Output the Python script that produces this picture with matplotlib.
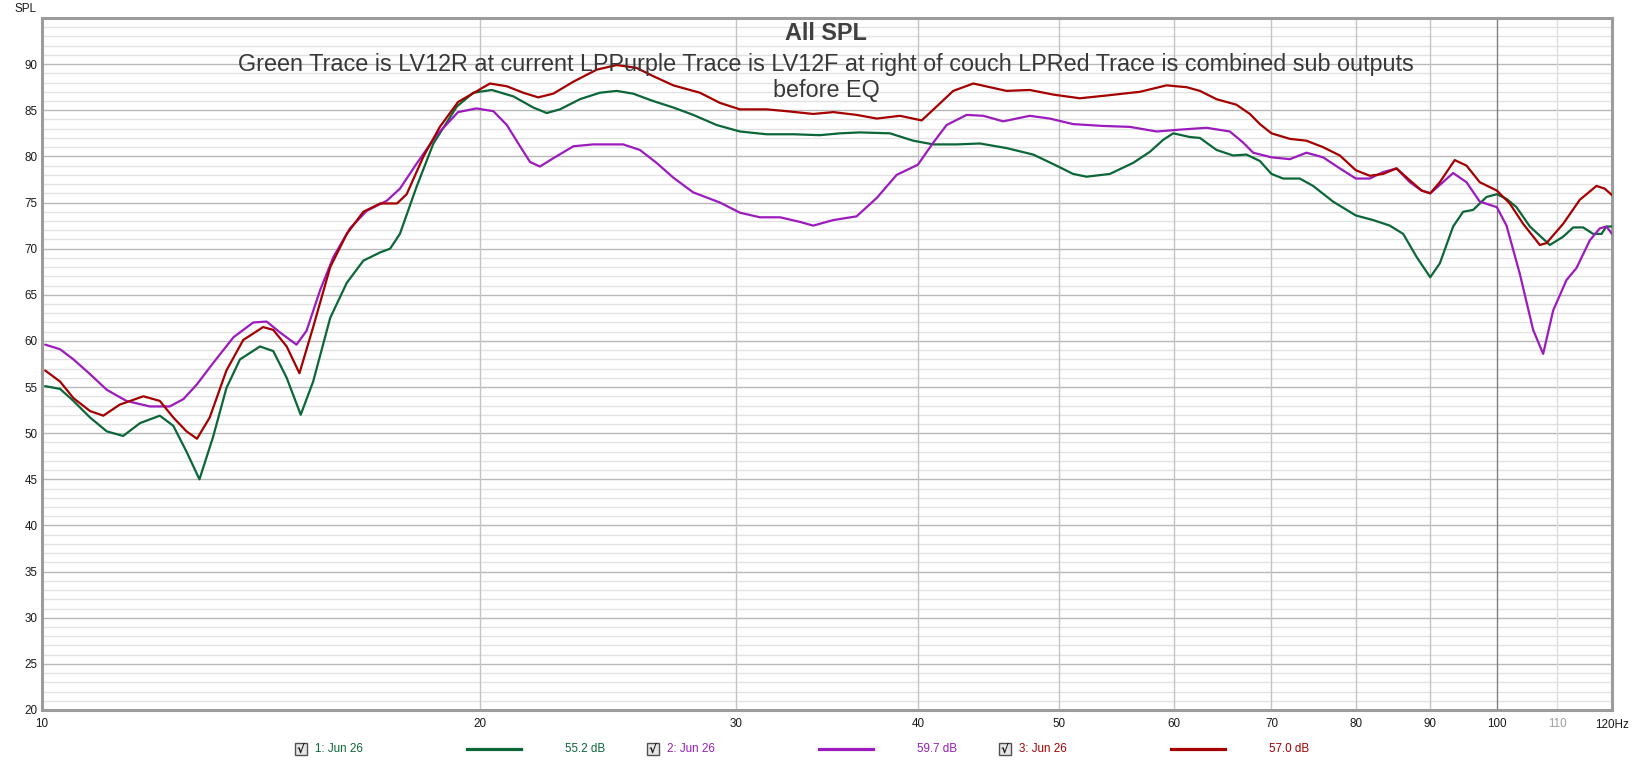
import matplotlib
matplotlib.use('Agg')
import matplotlib.pyplot as plt
from matplotlib.patches import Rectangle
from matplotlib.lines import Line2D

plt.rcParams['font.family'] = ['Liberation Sans', 'DejaVu Sans']

# ---------- data ----------
green_f = [10.05, 10.29, 10.51, 10.79, 11.08, 11.37, 11.68, 12.05, 12.31, 12.57, 12.83, 13.11,
           13.39, 13.68, 14.12, 14.42, 14.73, 15.06, 15.36, 15.78, 16.20, 16.63, 17.08, 17.35,
           17.62, 18.09, 18.58, 19.28, 19.79, 20.38, 21.09, 21.76, 22.23, 22.70, 23.43, 24.18,
           24.83, 25.49, 26.31, 27.16, 28.03, 29.09, 30.18, 31.48, 32.85, 34.25, 35.36, 36.49,
           38.27, 39.71, 40.99, 42.53, 44.13, 46.03, 48.01, 49.81, 51.14, 52.24, 54.20, 56.24,
           57.75, 58.98, 59.92, 61.52, 62.51, 64.17, 65.88, 67.29, 68.73, 70.0, 71.31, 73.21,
           74.77, 77.17, 80.0, 82.22, 84.42, 86.23, 88.08, 90.0, 91.37, 93.32, 94.81, 96.32,
           98.38, 100.0, 101.55, 103.16, 105.37, 108.76, 111.08, 112.85, 114.65, 116.47, 118.02,
           118.95, 120.0]
green_db = [55.1, 54.8, 53.5, 51.7, 50.2, 49.7, 51.1, 51.9, 50.8, 48.0, 45.0, 49.6,
            54.9, 58.0, 59.4, 58.9, 56.0, 52.0, 55.6, 62.5, 66.3, 68.7, 69.6, 70.0,
            71.6, 76.7, 81.4, 85.4, 86.9, 87.2, 86.5, 85.3, 84.7, 85.1, 86.2, 86.9,
            87.1, 86.8, 86.0, 85.3, 84.5, 83.4, 82.7, 82.4, 82.4, 82.3, 82.5, 82.6,
            82.5, 81.7, 81.3, 81.3, 81.4, 80.9, 80.2, 79.0, 78.1, 77.8, 78.1, 79.3,
            80.5, 81.8, 82.5, 82.1, 82.0, 80.7, 80.1, 80.2, 79.5, 78.1, 77.6, 77.6,
            76.8, 75.1, 73.6, 73.1, 72.5, 71.6, 69.1, 66.9, 68.4, 72.4, 74.0, 74.2,
            75.6, 75.9, 75.4, 74.5, 72.4, 70.4, 71.3, 72.3, 72.3, 71.6, 71.6,
            72.4, 72.4]

purple_f = [10.05, 10.29, 10.51, 10.79, 11.08, 11.43, 11.86, 12.24, 12.51, 12.78, 13.11, 13.54,
            13.97, 14.27, 14.58, 14.96, 15.20, 15.53, 15.86, 16.28, 16.72, 17.26, 17.62, 18.09,
            18.67, 19.32, 19.89, 20.43, 20.87, 21.31, 21.65, 21.99, 22.46, 23.19, 23.93, 25.09,
            25.76, 26.45, 27.16, 28.03, 29.24, 30.18, 31.15, 32.16, 33.19, 33.89, 34.99, 36.30,
            37.48, 38.68, 40.0, 40.99, 41.86, 43.21, 44.36, 45.78, 47.75, 49.29, 51.14, 53.63,
            55.95, 58.37, 60.55, 63.17, 65.54, 66.93, 68.01, 70.0, 72.07, 73.99, 75.96, 78.0,
            80.0, 81.79, 83.53, 85.32, 87.15, 88.78, 90.0, 91.37, 93.32, 95.32, 97.34, 100.0,
            101.55, 103.70, 105.92, 107.61, 109.33, 111.66, 113.44, 115.86, 117.71, 118.95, 120.0]
purple_db = [59.6, 59.1, 58.0, 56.4, 54.7, 53.5, 52.9, 52.9, 53.7, 55.3, 57.6, 60.4,
             62.0, 62.1, 60.9, 59.6, 61.1, 65.5, 69.1, 72.2, 74.1, 75.2, 76.5, 79.2,
             82.3, 84.8, 85.2, 84.9, 83.4, 81.1, 79.4, 78.9, 79.8, 81.1, 81.3, 81.3,
             80.7, 79.3, 77.7, 76.1, 75.0, 73.9, 73.4, 73.4, 72.9, 72.5, 73.1, 73.5,
             75.5, 78.0, 79.1, 81.5, 83.4, 84.5, 84.4, 83.8, 84.4, 84.1, 83.5, 83.3,
             83.2, 82.7, 82.9, 83.1, 82.7, 81.5, 80.4, 79.9, 79.7, 80.4, 79.9, 78.7,
             77.6, 77.6, 78.3, 78.7, 77.2, 76.3, 76.0, 76.9, 78.2, 77.2, 75.1, 74.5,
             72.5, 67.3, 61.2, 58.6, 63.3, 66.6, 67.9, 70.9, 72.2, 72.4, 71.6]

red_f = [10.05, 10.29, 10.51, 10.79, 11.02, 11.31, 11.74, 12.05, 12.31, 12.57, 12.78, 13.04,
         13.39, 13.75, 14.19, 14.42, 14.73, 15.03, 15.36, 15.78, 16.20, 16.63, 17.08, 17.54,
         17.81, 18.29, 18.77, 19.32, 20.32, 20.87, 21.42, 21.93, 22.46, 23.19, 24.06, 24.83,
         25.62, 26.31, 27.16, 28.33, 29.24, 30.18, 31.48, 32.50, 33.89, 34.99, 36.30, 37.48,
         38.88, 40.24, 41.20, 42.30, 43.67, 44.83, 46.03, 47.75, 49.55, 51.69, 53.91, 56.84,
         59.29, 61.20, 62.51, 64.17, 66.23, 67.65, 68.73, 70.0, 72.07, 73.99, 75.96, 78.0,
         80.0, 81.79, 83.53, 85.32, 87.15, 88.78, 90.0, 91.37, 93.56, 95.32, 97.34, 100.0,
         102.07, 104.25, 107.05, 108.18, 111.08, 114.04, 117.09, 118.64, 120.0]
red_db = [56.8, 55.6, 53.8, 52.4, 51.9, 53.1, 54.0, 53.5, 51.7, 50.2, 49.4, 51.7,
          56.8, 60.1, 61.5, 61.2, 59.4, 56.5, 61.5, 68.0, 71.6, 74.0, 74.9, 74.9,
          75.9, 80.0, 83.2, 85.9, 87.9, 87.6, 86.9, 86.4, 86.8, 88.1, 89.4, 89.9,
          89.6, 88.7, 87.7, 86.9, 85.8, 85.1, 85.1, 84.9, 84.6, 84.8, 84.5, 84.1,
          84.4, 83.9, 85.4, 87.1, 87.9, 87.5, 87.1, 87.2, 86.7, 86.3, 86.6, 87.0,
          87.7, 87.5, 87.1, 86.2, 85.6, 84.6, 83.5, 82.5, 81.9, 81.7, 81.0, 80.1,
          78.5, 77.9, 78.1, 78.7, 77.4, 76.3, 76.0, 77.2, 79.6, 79.0, 77.2, 76.3,
          74.9, 72.7, 70.4, 70.6, 72.7, 75.3, 76.8, 76.5, 75.8]

series_f = [green_f, purple_f, red_f]
series_db = [green_db, purple_db, red_db]
colors = ['#0b6638', '#9b1bbd', '#a50000']
legend_names = ['1: Jun 26', '2: Jun 26', '3: Jun 26']
legend_levels = ['55.2 dB', '59.7 dB', '57.0 dB']

x_ticks = [10, 20, 30, 40, 50, 60, 70, 80, 90, 100, 110]
y_ticks = list(range(20, 95, 5))

title = 'All SPL'
subtitle = ['Green Trace is LV12R at current LPPurple Trace is LV12F at right of couch LPRed Trace is combined sub outputs',
            'before EQ']

# ---------- figure ----------
W, H = 1633, 763
fig = plt.figure(figsize=(W / 100, H / 100), dpi=100)
ax = fig.add_axes([42 / W, 1 - 710 / H, (1612 - 42) / W, (710 - 18) / H])
ax.set_xscale('log')
ax.set_xlim(10, 120)
ax.set_ylim(20, 95)

# grid like REW
for v in range(21, 95):
    if v % 5:
        ax.axhline(v, color='#e2e2e2', lw=1, zorder=0)
for v in range(25, 95, 5):
    ax.axhline(v, color='#b8b8b8', lw=1, zorder=1)
for f in x_ticks[1:]:
    c = '#c4c4c4'
    if f == 100:
        c = '#808080'
    elif f == 110:
        c = '#dddddd'
    ax.axvline(f, color=c, lw=1, zorder=1)

for fx, db, c in zip(series_f, series_db, colors):
    ax.plot(fx, db, color=c, lw=1.6, zorder=3, solid_joinstyle='round', solid_capstyle='round')

ax.set_xticks(x_ticks)
ax.set_xticklabels([str(t) for t in x_ticks])
ax.xaxis.set_minor_locator(matplotlib.ticker.NullLocator())
ax.set_yticks(y_ticks)
ax.set_yticklabels([str(t) for t in y_ticks])
ax.tick_params(length=0, labelsize=8.4, colors='#1a1a1a', pad=3)
ax.tick_params(axis='x', pad=6)
ax.get_xticklabels()[-1].set_color('#a0a0a0')
ax.text(120, -0.013, '120Hz', transform=ax.get_xaxis_transform(), ha='center', va='top',
        fontsize=8.4, color='#1a1a1a')

for s in ax.spines.values():
    s.set_color('#9c9c9c')
    s.set_linewidth(2.2)

def px(x, y):
    return x / W, 1 - y / H

fig.text(*px(15, 9), 'SPL', fontsize=8.4, va='center', color='#1a1a1a')
fig.text(*px(826, 34), title, ha='center', va='center', fontsize=16.8, fontweight='bold', color='#404040')
fig.text(*px(826, 64), subtitle[0], ha='center', va='center', fontsize=16.8, color='#383838')
fig.text(*px(826, 90), subtitle[1], ha='center', va='center', fontsize=16.8, color='#383838')

# legend row under the plot
for i, (name, lvl, c) in enumerate(zip(legend_names, legend_levels, colors)):
    off = i * 352
    fig.add_artist(Rectangle(px(295 + off, 755), 12 / W, 12 / H, transform=fig.transFigure,
                             facecolor='#e6e6e6', edgecolor='#505050', lw=1))
    fig.text(*px(301 + off, 749), '√', ha='center', va='center', fontsize=8.5,
             fontweight='bold', color='#111111', family=['DejaVu Sans'])
    fig.text(*px(315 + off, 749), name, va='center', fontsize=8.4, color=c)
    x0, y0 = px(467 + off, 749)
    x1, _ = px(521 + off, 749)
    fig.add_artist(Line2D([x0, x1], [y0, y0], transform=fig.transFigure, color=c, lw=2.3))
    fig.text(*px(565 + off, 749), lvl, va='center', fontsize=8.4, color=c)

fig.savefig('out.png', dpi=100)
